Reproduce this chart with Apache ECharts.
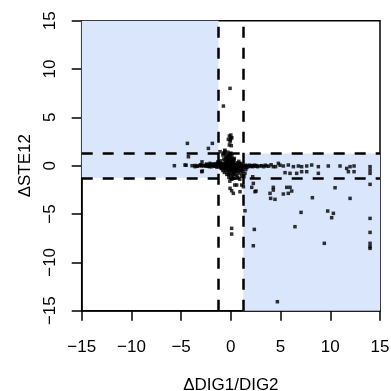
<!DOCTYPE html>
<html>
<head>
<meta charset="utf-8">
<script src="https://cdn.jsdelivr.net/npm/echarts@6/dist/echarts.min.js"></script>
<style>
html,body{margin:0;padding:0;background:#fff;}
#c{width:391px;height:391px;}
</style>
</head>
<body>
<div id="c"></div>
<script>
// axis settings
const xTicks = [-15, -10, -5, 0, 5, 10, 15];
const yTicks = [-15, -10, -5, 0, 5, 10, 15];
const xTitle = 'ΔDIG1/DIG2';
const yTitle = 'ΔSTE12';
const threshold = 1.25;

// points: x values and y values
const pointsX = [
  -5.68,-4.61,-4.5,-4.37,-4.27,-3.9,-3.6,-3.6,-3.3,-3.1,-2.93,-2.93,-2.9,-2.87,-2.7,-2.5,-2.43,-2.4,-2.26,-2.2,-2.1,-2.05,-1.95,-1.93,-1.86,-1.8,-1.7,-1.6,-1.55,-1.45,-1.4,-1.35,
  -0.08,-0.75,0.0,-0.15,0.1,-0.05,0.05,-0.15,0.0,-0.25,-0.08,-0.6,-0.75,-1.09,
  -0.9,-0.8,-0.7,-0.6,-0.5,-0.4,-0.3,-0.2,-0.1,0.0,0.1,0.2,0.3,0.4,0.5,0.6,0.7,0.8,0.9,1.0,
  -0.6,-0.4,-0.2,0.0,0.2,-0.3,-0.1,-0.5,0.1,-0.7,-0.8,-0.3,0.0,-0.6,0.3,
  -0.5,-0.3,-0.1,0.1,0.3,0.0,0.2,-0.2,0.4,0.1,-0.1,0.3,0.5,0.6,-0.4,-0.6,-0.8,-1.0,-1.1,-1.2,
  -0.45,-0.25,-0.05,0.15,0.35,-0.15,0.05,-0.35,0.25,-0.55,0.45,0.65,0.75,0.85,1.1,1.2,1.3,1.4,1.5,1.6,1.7,1.8,1.9,2.0,2.1,2.2,2.3,2.4,2.5,2.6,2.7,
  0.95,1.05,1.2,1.5,0.7,0.9,1.1,1.09,1.42,1.32,-1.0,-1.3,
  1.09,1.26,-0.08,0.08,0.25,0.4,0.92,0.08,0.08,
  -0.95,-0.85,-0.75,-0.65,-0.55,-0.35,-0.15,0.05,0.25,0.55,-1.05,-0.9,-0.7,-0.5,-0.3,-0.1,0.1,0.3,0.5,0.7,
  -0.65,-0.45,-0.25,-0.05,0.15,0.35,-0.2,0.0,0.2,-0.4,-0.1,0.1,-0.3,0.25,0.45,-0.5,-0.7,0.6,0.8,-0.2,
  -1.15,-1.25,-1.0,-0.95,-1.3,0.9,1.0,1.15,0.75,0.55,
  -2.6,-2.3,-2.0,-1.75,-1.5,-3.4,-3.0,-2.15,-1.65,-1.25,
  2.93,3.6,4.27,4.78,5.28,5.78,6.29,6.79,7.12,7.63,8.13,8.8,9.8,10.98,11.65,11.99,12.39,12.39,14.0,14.0,14.0,
  3.1,3.3,3.45,3.8,4.05,4.5,4.95,
  5.45,5.95,6.62,7.12,7.63,8.8,11.82,
  2.2,2.26,2.1,2.53,4.27,3.94,4.44,5.28,5.62,5.95,5.78,6.12,8.2,10.48,11.99,14.0,
  1.42,7.06,9.74,10.31,10.14,14.0,2.36,6.45,14.0,2.26,9.4,14.0,14.0,14.0,4.68,
  4.0,4.27,0.59,2.43
];
const pointsY = [
  0.0,0.07,0.05,2.31,0.93,0.0,0.02,-0.1,-0.03,0.05,-0.03,-0.62,0.4,-0.55,0.0,-0.05,0.17,0.1,1.79,0.0,0.24,0.15,-0.1,0.07,2.31,0.05,0.2,-0.05,0.1,0.0,-0.15,0.25,
  8.0,6.17,3.17,3.07,2.9,2.66,2.07,2.14,2.83,2.72,2.48,1.6,1.28,1.45,
  0.1,-0.1,0.2,0.0,-0.2,0.1,-0.1,0.3,-0.3,0.0,0.2,-0.2,0.1,-0.1,0.0,-0.2,0.1,-0.1,0.0,-0.05,
  0.5,0.6,0.8,0.5,0.7,1.0,1.2,0.9,1.0,0.7,1.1,1.4,1.3,1.5,0.4,
  -0.5,-0.6,-0.8,-0.5,-0.7,-1.0,-1.1,-1.2,-0.9,-1.4,-1.6,-1.3,-0.6,-1.0,-0.9,-0.3,-0.5,-0.2,0.3,0.0,
  0.25,0.45,0.15,-0.05,-0.35,-0.45,0.35,-0.25,0.25,-0.15,0.15,0.3,-0.4,0.2,0.1,-0.2,0.0,-0.1,0.05,-0.2,0.0,-0.1,0.05,-0.05,0.0,-0.1,0.0,0.05,-0.05,0.0,-0.1,
  -0.5,-0.8,-0.6,-0.4,-1.2,-1.4,-1.1,-0.45,-0.79,-1.14,0.5,0.4,
  -2.0,-2.17,-2.34,-2.59,-2.86,-2.0,-2.69,-6.48,-7.07,
  0.05,-0.05,0.0,0.15,0.05,-0.05,0.1,0.05,-0.1,0.1,-0.1,-0.25,-0.3,0.35,0.55,0.65,-0.65,0.6,-0.45,-0.55,
  -0.7,0.8,-0.9,0.9,0.55,0.75,-0.4,-0.45,0.45,-0.15,-0.15,-0.3,0.2,-0.85,-0.55,1.2,1.3,-0.35,0.45,1.05,
  0.05,-0.1,0.2,-0.3,0.15,-0.3,0.25,-0.35,-0.75,-0.3,
  0.05,-0.05,0.1,0.05,0.15,-0.05,0.1,-0.1,-0.05,0.1,
  -0.03,-0.03,-0.1,0.24,-0.03,0.07,-0.1,-0.03,-0.1,-0.03,0.07,-0.1,-0.03,-0.03,-0.28,-0.1,-0.03,-0.62,-0.1,-0.45,-0.79,
  0.0,-0.1,0.05,-0.05,0.1,-0.1,0.05,
  -0.72,-0.79,-0.79,-0.62,-0.62,-0.79,-0.62,
  -1.14,-1.83,-2.24,-2.62,-2.24,-2.86,-3.48,-2.93,-2.24,-2.24,-2.86,-2.62,-3.31,-2.28,-3.38,-1.93,
  -4.66,-4.83,-4.69,-4.93,-5.38,-5.45,-6.59,-6.31,-6.9,-8.28,-8.03,-8.03,-8.38,-8.55,-14.07,
  -3.38,-2.52,-2.0,-2.69
];

const points = pointsX.map((x, i) => [x, pointsY[i]]);
const fmt = v => String(v).replace('-', '\u2212');
const font = 'Liberation Sans, Arial, Helvetica, sans-serif';
const T = threshold;

const chart = echarts.init(document.getElementById('c'), null, {renderer: 'canvas'});
chart.setOption({
  animation: false,
  backgroundColor: '#ffffff',
  grid: {left: 81.7, top: 20.7, width: 298.3, height: 290, outerBoundsMode: 'none', containLabel: false, show: true, borderColor: '#000', borderWidth: 1.5, backgroundColor: 'transparent'},
  xAxis: {
    type: 'value', min: xTicks[0], max: xTicks[xTicks.length - 1], interval: 5,
    name: xTitle, nameLocation: 'middle', nameGap: 66,
    nameTextStyle: {fontFamily: font, fontSize: 17, color: '#000'},
    axisLine: {show: true, onZero: false, lineStyle: {color: '#000', width: 1.5}},
    axisTick: {show: true, inside: false, length: 10, lineStyle: {color: '#000', width: 1.5}},
    axisLabel: {fontFamily: font, fontSize: 17, color: '#000', margin: 28, formatter: fmt},
    splitLine: {show: false}
  },
  yAxis: {
    type: 'value', min: yTicks[0], max: yTicks[yTicks.length - 1], interval: 5,
    name: yTitle, nameLocation: 'middle', nameGap: 46, nameRotate: 90,
    nameTextStyle: {fontFamily: font, fontSize: 17, color: '#000'},
    axisLine: {show: true, onZero: false, lineStyle: {color: '#000', width: 1.5}},
    axisTick: {show: true, inside: false, length: 10, lineStyle: {color: '#000', width: 1.5}},
    axisLabel: {fontFamily: font, fontSize: 17, color: '#000', margin: 23, rotate: 90, formatter: fmt},
    splitLine: {show: false}
  },
  series: [{
    type: 'scatter',
    data: points,
    symbol: 'rect',
    symbolSize: 3.5,
    itemStyle: {color: '#000'},
    z: 3,
    markArea: {
      silent: true,
      itemStyle: {color: '#d9e6fb'},
      data: [
        [{coord: [xTicks[0], -T]}, {coord: [-T, yTicks[yTicks.length - 1]]}],
        [{coord: [T, yTicks[0]]}, {coord: [xTicks[xTicks.length - 1], T]}]
      ],
      z: 1
    },
    markLine: {
      silent: true,
      symbol: 'none',
      label: {show: false},
      lineStyle: {color: '#000', width: 2.5, type: [11, 10]},
      data: [{xAxis: -T}, {xAxis: T}, {yAxis: -T}, {yAxis: T}]
    }
  }]
});
</script>
</body>
</html>
